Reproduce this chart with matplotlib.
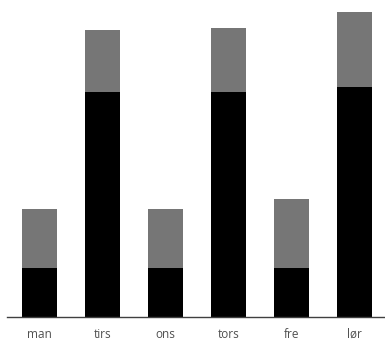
import matplotlib
matplotlib.use("Agg")
import matplotlib.pyplot as plt
import numpy as np

days = ["man", "tirs", "ons", "tors", "fre", "lør"]
base_values = [20, 92, 20, 92, 20, 94]
top_values = [24, 25, 24, 26, 28, 30.5]

fig = plt.figure(figsize=(3.85, 3.44), dpi=100)
ax = fig.add_axes([7 / 385, 27 / 344, 378 / 385, 317 / 344])

x = np.arange(len(days))
width = 0.556
ax.bar(x, base_values, width, color="#000000")
ax.bar(x, top_values, width, bottom=base_values, color="#767676")

ax.set_xlim(-0.517, 5.49)
ax.set_ylim(0, 129.4)
ax.set_xticks(x)
ax.set_xticklabels(days, fontsize=8.5, color="#505050", family="Open Sans")
ax.tick_params(axis="x", length=0, pad=8)
ax.set_yticks([])
for side in ("top", "right", "left"):
    ax.spines[side].set_visible(False)
ax.spines["bottom"].set_color("#404040")
ax.spines["bottom"].set_linewidth(1.0)

fig.savefig("out.png", dpi=100)
